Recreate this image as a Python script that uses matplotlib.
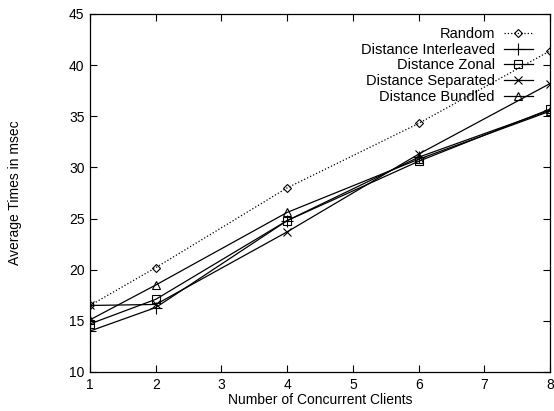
import matplotlib
matplotlib.use('Agg')
import matplotlib.pyplot as plt

plt.rcParams['font.family'] = ['Liberation Sans', 'DejaVu Sans']

clients = [1, 2, 4, 6, 8]
random_t = [16.5, 20.2, 28.0, 34.3, 41.4]
interleaved = [14.0, 16.3, 24.8, 31.0, 35.6]
zonal = [14.7, 17.1, 24.8, 30.6, 35.7]
separated = [16.5, 16.6, 23.7, 31.3, 38.2]
bundled = [15.1, 18.5, 25.6, 30.8, 35.5]

fig = plt.figure(figsize=(5.54, 4.11), dpi=100)
ax = fig.add_axes([0.1625, 0.095, 0.8305, 0.871])

kw = dict(color='black', markerfacecolor='none', markeredgecolor='black',
          linewidth=0.9, markersize=6, markeredgewidth=0.8)
ax.plot(clients, random_t, linestyle=':', marker='D', label='Random', **{**kw, 'markersize': 4.5})
ax.plot(clients, interleaved, marker='+', label='Distance Interleaved', **{**kw, 'markersize': 8})
ax.plot(clients, zonal, marker='s', label='Distance Zonal', **kw)
ax.plot(clients, separated, marker='x', label='Distance Separated', **kw)
ax.plot(clients, bundled, marker='^', label='Distance Bundled', **kw)

ax.set_xlim(1, 8)
ax.set_ylim(10, 45)
ax.set_xticks(range(1, 9))
ax.set_yticks(range(10, 46, 5))
ax.tick_params(direction='in', top=True, right=True, labelsize=10, length=5, pad=4)
for s in ax.spines.values():
    s.set_linewidth(0.9)

ax.set_xlabel('Number of Concurrent Clients', fontsize=10, labelpad=1)
ax.set_ylabel('Average Times in msec', fontsize=10, labelpad=34)

ax.legend(loc='upper right', frameon=False, markerfirst=False, fontsize=10.5,
          handlelength=2.0, labelspacing=0.12, borderaxespad=0.0,
          handletextpad=0.6, bbox_to_anchor=(0.975, 0.98))

fig.savefig('out.png', dpi=100)
